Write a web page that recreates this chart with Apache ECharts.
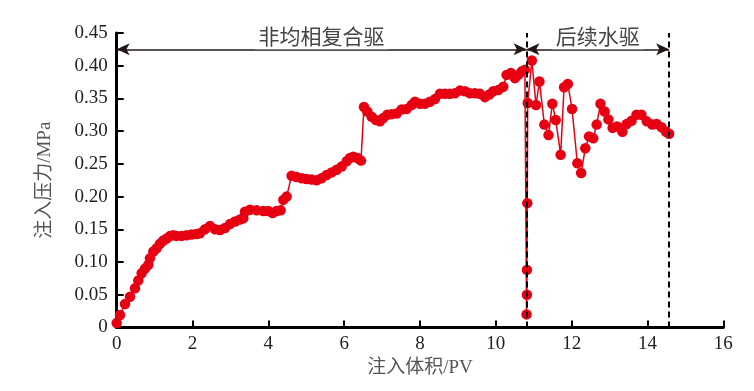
<!DOCTYPE html>
<html>
<head>
<meta charset="utf-8">
<script src="https://cdn.jsdelivr.net/npm/echarts@6/dist/echarts.min.js"></script>
<style>html,body{margin:0;padding:0;background:#fff}#c{width:754px;height:391px}</style>
</head>
<body>
<div id="c"></div>
<script>
// Phase 1: 非均相复合驱 (heterogeneous composite flooding)
const compositeX = [0.000,0.087,0.219,0.351,0.483,0.570,0.658,0.746,0.834,0.878,0.966,1.054,1.142,1.230,1.318,1.406,1.493,1.581,1.713,1.845,1.977,2.109,2.197,2.329,2.461,2.592,2.724,2.856,2.988,3.120,3.252,3.339,3.383,3.515,3.691,3.867,3.999,4.113,4.219,4.324,4.394,4.482,4.614,4.746,4.879,5.010,5.141,5.273,5.405,5.537,5.669,5.801,5.933,6.065,6.152,6.240,6.346,6.443,6.522,6.609,6.724,6.838,6.944,7.031,7.137,7.251,7.383,7.515,7.647,7.779,7.867,7.998,8.130,8.262,8.394,8.526,8.658,8.790,8.922,9.053,9.185,9.317,9.449,9.581,9.713,9.827,9.932,10.064,10.196,10.284,10.398,10.504,10.591,10.679,10.767];
const compositeY = [0.007,0.019,0.036,0.047,0.060,0.072,0.083,0.090,0.096,0.106,0.116,0.121,0.128,0.133,0.136,0.140,0.141,0.140,0.140,0.141,0.142,0.143,0.144,0.150,0.155,0.150,0.149,0.152,0.158,0.162,0.165,0.167,0.177,0.180,0.179,0.178,0.178,0.175,0.178,0.179,0.195,0.200,0.232,0.230,0.228,0.227,0.226,0.225,0.228,0.233,0.237,0.241,0.246,0.254,0.259,0.261,0.259,0.255,0.337,0.330,0.322,0.317,0.315,0.320,0.325,0.326,0.327,0.333,0.334,0.340,0.345,0.342,0.342,0.345,0.349,0.357,0.357,0.357,0.358,0.362,0.361,0.358,0.358,0.357,0.352,0.356,0.361,0.363,0.368,0.386,0.389,0.381,0.386,0.391,0.394];
// Phase 2: 后续水驱 (subsequent water flooding)
const waterX = [10.81,10.82,10.82,10.83,10.84,10.95,11.06,11.15,11.28,11.39,11.49,11.58,11.71,11.80,11.90,12.01,12.15,12.25,12.36,12.46,12.57,12.66,12.76,12.87,12.97,13.08,13.20,13.34,13.45,13.58,13.71,13.84,13.98,14.13,14.24,14.37,14.49,14.57];
const waterY = [0.020,0.050,0.088,0.190,0.343,0.408,0.340,0.376,0.310,0.294,0.342,0.317,0.264,0.367,0.372,0.334,0.251,0.236,0.274,0.292,0.289,0.310,0.342,0.330,0.318,0.305,0.307,0.299,0.311,0.316,0.325,0.325,0.315,0.310,0.311,0.306,0.299,0.296];
const phaseBounds = [0, 10.81, 14.57];
const phaseLabels = ['非均相复合驱', '后续水驱'];
const xTicks = [0,2,4,6,8,10,12,14,16];
const yTicks = [0,0.05,0.10,0.15,0.20,0.25,0.30,0.35,0.40,0.45];

const points = compositeX.map((x,i)=>[x,compositeY[i]]).concat(waterX.map((x,i)=>[x,waterY[i]]));
const arrowY = 0.425;
const serif = '"Liberation Serif","Times New Roman","Noto Sans CJK SC",serif';
const red = '#e60012';

const chart = echarts.init(document.getElementById('c'), null, {renderer:'canvas'});
chart.setOption({
  animation:false,
  backgroundColor:'#fff',
  grid:{left:116.7, right:30.7, top:33, bottom:63.5},
  xAxis:{
    type:'value', min:xTicks[0], max:xTicks[xTicks.length-1], interval:2,
    name:'注入体积/PV', nameLocation:'middle', nameGap:31,
    nameTextStyle:{fontFamily:serif, fontSize:19, color:'#555'},
    axisLine:{show:true, onZero:false, lineStyle:{color:'#000', width:3}},
    axisTick:{show:true, inside:true, length:7, lineStyle:{color:'#000', width:2}},
    axisLabel:{fontFamily:serif, fontSize:19, color:'#222', margin:7},
    splitLine:{show:false}
  },
  yAxis:{
    type:'value', min:yTicks[0], max:yTicks[yTicks.length-1], interval:0.05,
    name:'注入压力/MPa', nameLocation:'middle', nameGap:62, nameRotate:90,
    nameTextStyle:{fontFamily:serif, fontSize:19, color:'#555'},
    axisLine:{show:true, onZero:false, lineStyle:{color:'#000', width:3}},
    axisTick:{show:true, inside:true, length:7, lineStyle:{color:'#000', width:2}},
    axisLabel:{fontFamily:serif, fontSize:19, color:'#222', margin:9,
      formatter:v=> v===0 ? '0' : v.toFixed(2)},
    splitLine:{show:false}
  },
  series:[{
    type:'line',
    data:points,
    symbol:'circle', symbolSize:10.5,
    itemStyle:{color:red},
    lineStyle:{color:red, width:1.5},
    clip:false,
    z:3,
    markLine:{
      silent:true,
      symbol:['none','none'],
      z:5,
      lineStyle:{color:'#000', width:2, type:[6,4]},
      label:{show:false},
      data:[
        [{coord:[phaseBounds[1],0]},{coord:[phaseBounds[1],yTicks[yTicks.length-1]]}],
        [{coord:[phaseBounds[2],0]},{coord:[phaseBounds[2],yTicks[yTicks.length-1]]}]
      ]
    }
  },{
    type:'line', data:[], z:6,
    markLine:{
      silent:true,
      symbol:['arrow','arrow'],
      symbolSize:[9,13],
      lineStyle:{color:'#231815', width:1.6, type:'solid'},
      label:{show:true, position:'middle', fontFamily:serif, fontSize:21, color:'#444',
        backgroundColor:'#fff', padding:[0,4], distance:0},
      data:[
        [{coord:[phaseBounds[0],arrowY], label:{formatter:phaseLabels[0]}},{coord:[phaseBounds[1],arrowY]}],
        [{coord:[phaseBounds[1],arrowY], label:{formatter:phaseLabels[1]}},{coord:[phaseBounds[2],arrowY]}]
      ]
    }
  }]
});
</script>
</body>
</html>
